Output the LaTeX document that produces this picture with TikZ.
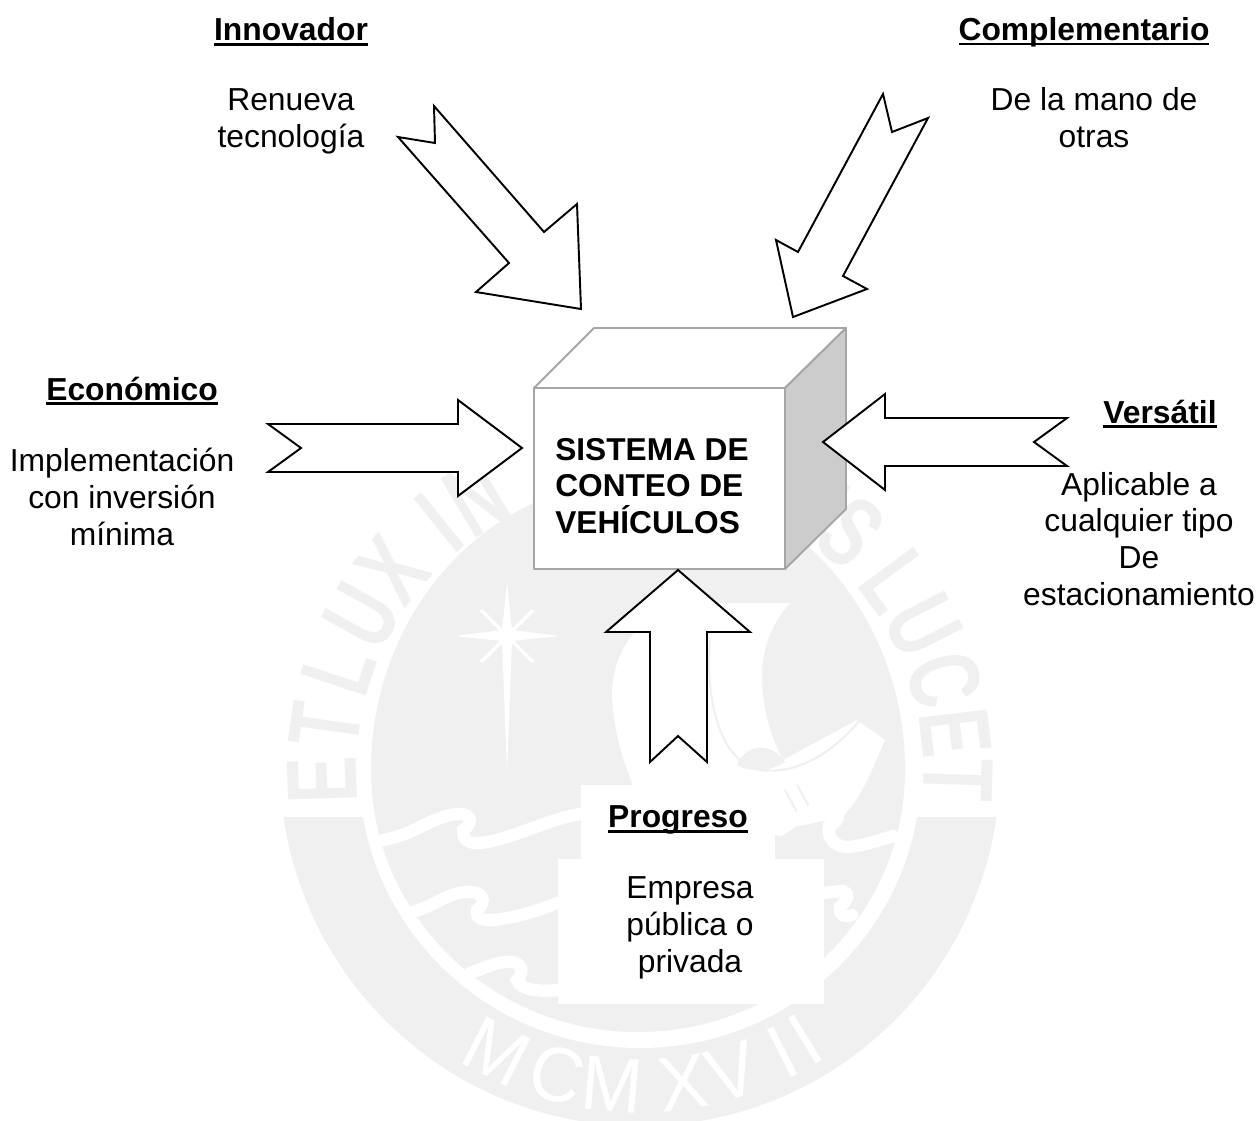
\documentclass[tikz,border=0pt]{standalone}
\usepackage{fontspec}
\setmainfont{Liberation Sans}
\newcommand{\subrayado}[1]{\setbox0\hbox{\bfseries #1}\rlap{\rule[-3pt]{\wd0}{1.6pt}}\box0}
\definecolor{sello}{HTML}{F0F0F0}
\definecolor{caja}{HTML}{A6A6A6}
\definecolor{lado}{HTML}{CCCCCC}
\tikzset{
  flecha/.style={draw=black, fill=white, line width=1.1pt, line join=miter},
  cubo/.style={draw=caja, line width=1.1pt, line join=round},
  titulo/.style={font=\fontsize{18.1}{21}\selectfont},
  texto/.style={font=\fontsize{18.1}{21}\selectfont, align=center, inner sep=0pt},
  letra/.style={font=\fontsize{57}{57}\selectfont\bfseries, text=sello, inner sep=0pt, xscale=.7, transform shape},
  annoletra/.style={font=\fontsize{44}{44}\selectfont, text=white, inner sep=0pt, xscale=.95, transform shape},
  ola/.style={draw=white, line width=7pt, line cap=round}
}

\begin{document}
\begin{tikzpicture}[x=0.02cm, y=-0.02cm]
\useasboundingbox (0,0) rectangle (1260,1120);

% seal behind everything
\begin{scope}
  \clip (0,817) rectangle (1260,1120);
  \fill[sello] (640,766) circle [radius=360];
\end{scope}
\fill[white] (640,770) ellipse [x radius=281, y radius=278];
\fill[sello] (371,770) arc [start angle=180, end angle=360, x radius=267, y radius=290]
             arc [start angle=0, end angle=180, x radius=267, y radius=262] -- cycle;
% ring letters
\foreach \ang/\ch [count=\i] in {181.8/E,172/T,161.5/L,151/U,141/X,129/I,121/N,60/R,54/I,48.5/S,36.5/L,27/U,16.5/C,6.7/E,-1.8/T}
  \node[rotate=\ang-90, letra] (anillo\i) at ({640+318*cos(\ang)},{770-318*sin(\ang)}) {\ch};
\foreach \ang/\ch [count=\i] in {243/M,254.8/C,265/M,277.8/X,286.9/V,296.9/I,301.5/I}
  \node[rotate=\ang+90, annoletra] (anno\i) at ({640+316*cos(\ang)},{770-316*sin(\ang)}) {\ch};
% star
\fill[white] (507,583) -- (512,630) -- (560,636) -- (512,641) -- (507,772) -- (502,641) -- (455,636) -- (502,630) -- cycle;
\draw[white, line width=2pt] (481,610) -- (533,662) (533,610) -- (481,662);
% crescent
\fill[white] (612,690) .. controls (615,640) and (650,605) .. (700,603) -- (790,603)
  .. controls (770,625) and (762,650) .. (762,677) .. controls (762,710) and (772,740) .. (783,760)
  -- (857,720) -- (885,740) .. controls (870,775) and (860,800) .. (842,817) -- (780,830) -- (640,800)
  .. controls (620,760) and (612,720) .. (612,690) -- cycle;
\fill[sello] (737,765) .. controls (745,745) and (770,740) .. (785,762) .. controls (770,772) and (750,772) .. (737,765) -- cycle;
\draw[sello, line width=1.2pt] (710,640) .. controls (705,700) and (720,762) .. (760,770) .. controls (800,775) and (835,750) .. (860,720);
\draw[sello, line width=1.2pt] (785,790) -- (797,812) (797,785) -- (810,808) (722,577) -- (727,603);
% waves
\draw[ola] (383,840) .. controls (415,835) and (435,814) .. (460,814) .. controls (472,814) and (473,824) .. (463,830)
  .. controls (462,840) and (470,844) .. (480,843) .. controls (510,840) and (545,820) .. (580,814);
\draw[ola] (780,830) .. controls (795,820) and (810,808) .. (825,808) .. controls (842,808) and (842,820) .. (829,826)
  .. controls (826,840) and (838,848) .. (850,847) .. controls (865,845) and (880,840) .. (893,836);
\draw[ola] (413,912) .. controls (435,905) and (450,892) .. (467,892) .. controls (482,890) and (488,902) .. (477,910)
  .. controls (475,918) and (483,921) .. (493,920) .. controls (515,918) and (540,910) .. (557,903);
\draw[ola] (823,893) -- (843,891) .. controls (852,895) and (845,902) .. (840,907) .. controls (838,915) and (845,918) .. (852,915);
\draw[ola] (470,973) .. controls (485,968) and (500,960) .. (513,962) .. controls (525,965) and (522,975) .. (517,980)
  .. controls (520,990) and (540,992) .. (557,990);

% white patches under the bottom texts
\fill[white] (581,785) rectangle (775,860);
\fill[white] (558,859) rectangle (824,1004);

% box
\draw[cubo, fill=white] (534,388) -- (594,328) -- (846,328) -- (785,388) -- cycle;
\draw[cubo, fill=lado] (785,388) -- (846,328) -- (846,509) -- (785,569) -- cycle;
\draw[cubo, fill=white] (534,388) rectangle (785,569);
\node[texto, align=left, anchor=west, font=\fontsize{18}{21}\selectfont\bfseries] (sistema) at (555,486) {SISTEMA DE\\CONTEO DE\\VEHÍCULOS};

% block arrows
\draw[flecha] (268,424) -- (458,424) -- (458,400) -- (522,448) -- (458,496) -- (458,472) -- (268,472) -- (301,448) -- cycle;
\draw[flecha] (1067,418) -- (885,418) -- (885,394) -- (823,442) -- (885,490) -- (885,466) -- (1067,466) -- (1034,442) -- cycle;
\draw[flecha] (707,762) -- (707,632) -- (750,632) -- (678,570) -- (606,632) -- (650,632) -- (650,762) -- (678,736) -- cycle;
\draw[flecha] (434,106) -- (544,232) -- (577,204) -- (581,309) -- (476,292) -- (509,263) -- (398,137) -- (435,143) -- cycle;
\draw[flecha] (883,94) -- (798,252) -- (776,240) -- (793,317) -- (867,289) -- (843,276) -- (928,118) -- (892,132) -- cycle;

% labels
\node[titulo] (innovador) at (291,32) {\subrayado{Innovador}};
\node[texto] (renueva) at (291,121) {Renueva\\tecnología};
\node[titulo] (complementario) at (1084,32) {\subrayado{Complementario}};
\node[texto] (mano) at (1094,118) {De la mano de\\otras};
\node[titulo] (economico) at (132,391) {\subrayado{Económico}};
\node[texto] (implementacion) at (122,497) {Implementación\\con inversión\\mínima};
\node[titulo] (versatil) at (1160,414) {\subrayado{Versátil}};
\node[texto] (aplicable) at (1139,539) {Aplicable a\\cualquier tipo\\De\\estacionamiento};
\node[titulo] (progreso) at (678,820) {\subrayado{Progreso}};
\node[texto] (empresa) at (690,928) {Empresa\\pública o\\privada};
\end{tikzpicture}
\end{document}
